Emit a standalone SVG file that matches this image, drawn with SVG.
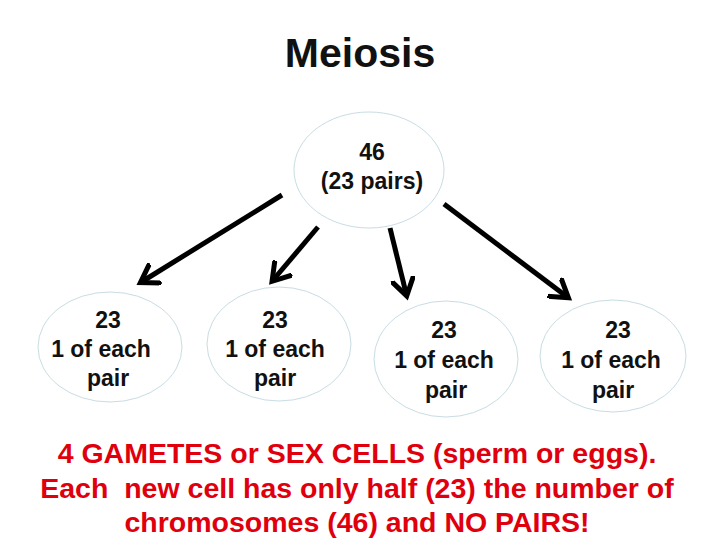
<svg xmlns="http://www.w3.org/2000/svg" width="720" height="540" viewBox="0 0 720 540">
<style>
.c{fill:#fff;stroke:#c8dde3;stroke-width:1}
.t{font-family:"Liberation Sans",Arial,sans-serif;font-size:23px;font-weight:bold;fill:#111;text-anchor:middle}
.r{font-family:"Liberation Sans",Arial,sans-serif;font-size:28.5px;font-weight:bold;fill:#e0000d;text-anchor:middle;white-space:pre}
.a{stroke:#000;stroke-width:5;fill:none;marker-end:url(#m)}
</style>
<defs><marker id="m" markerWidth="5" markerHeight="5" refX="3" refY="2.5" orient="auto" markerUnits="strokeWidth"><path d="M0,0.2 L3.6,2.5 L0,4.8" fill="none" stroke="#000" stroke-width="1"/></marker></defs>
<rect width="720" height="540" fill="#fff"/>
<text x="360" y="67" style="font-family:'Liberation Sans',Arial,sans-serif;font-size:41px;font-weight:bold;fill:#111;text-anchor:middle">Meiosis</text>
<g id="connectors">
<line class="a" x1="282" y1="195" x2="143" y2="281"/>
<line class="a" x1="318" y1="227" x2="274" y2="279"/>
<line class="a" x1="390" y1="228" x2="406" y2="293"/>
<line class="a" x1="444" y1="204" x2="566" y2="296"/>
</g>
<g id="parent"><ellipse class="c" cx="369" cy="170" rx="75" ry="58"/><text class="t" x="372" y="160">46</text><text class="t" x="372" y="189">(23 pairs)</text></g>
<g id="c1"><ellipse class="c" cx="110" cy="347" rx="72" ry="55"/><text class="t" x="108" y="328">23</text><text class="t" x="101" y="357">1 of each</text><text class="t" x="108" y="386">pair</text></g>
<g id="c2"><ellipse class="c" cx="279" cy="344" rx="72" ry="57"/><text class="t" x="275" y="328">23</text><text class="t" x="275" y="357">1 of each</text><text class="t" x="275" y="386">pair</text></g>
<g id="c3"><ellipse class="c" cx="446" cy="359" rx="72" ry="58"/><text class="t" x="444" y="338">23</text><text class="t" x="444" y="368">1 of each</text><text class="t" x="446" y="398">pair</text></g>
<g id="c4"><ellipse class="c" cx="613" cy="356" rx="73" ry="56"/><text class="t" x="618" y="338">23</text><text class="t" x="611" y="368">1 of each</text><text class="t" x="613" y="398">pair</text></g>
<text class="r" x="357" y="463">4 GAMETES or SEX CELLS (sperm or eggs).</text>
<text class="r" x="357" y="498">Each  new cell has only half (23) the number of</text>
<text class="r" x="357" y="532">chromosomes (46) and NO PAIRS!</text>
</svg>
